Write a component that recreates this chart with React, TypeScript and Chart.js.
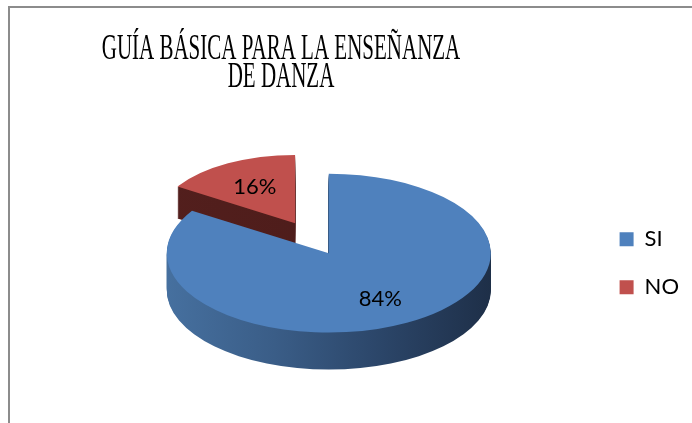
import React, { useEffect, useRef } from "react";
import { Chart, registerables } from "chart.js";

Chart.register(...registerables);

// ---- data ----
const categories = ["SI", "NO"];
const values = [84, 16];
const titleLines = ["GUÍA BÁSICA PARA LA ENSEÑANZA", "DE DANZA"];
const topColors = ["#4F81BD", "#C0504D"];
const sideColors = [
  ["#46709F", "#3A5D87", "#2B4568", "#1E2F48"],
  ["#531F1D", "#4A1B19"],
];
const explode = [0, 70];
const depthScale = [1, 0.86];

// ---- style ----
const W = 692;
const H = 423;
const RADIUS = 162;
const SQUASH = 0.49;
const DEPTH = 37;
const SHIFT_Y = -10;
const LABEL_R = [0.66, 0.6];
const TITLE_CX = 281;
const TITLE_SX = 0.6;

const pct = (v: number, total: number) => Math.round((v / total) * 100) + "%";

const pie3d = {
  id: "pie3d",
  afterLayout(chart: any) {
    const tb = chart.titleBlock;
    if (tb && !tb.__sq) {
      tb.__sq = true;
      const orig = tb.draw.bind(tb);
      tb.draw = (area: any) => {
        const ctx = chart.ctx;
        ctx.save();
        const mid = (tb.left + tb.right) / 2;
        ctx.translate(TITLE_CX, 0);
        ctx.scale(TITLE_SX, 1);
        ctx.translate(-mid, 0);
        orig(area);
        ctx.restore();
      };
    }
  },
  beforeDatasetDraw() {
    return false;
  },
  afterDatasetsDraw(chart: any) {
    const ctx = chart.ctx as CanvasRenderingContext2D;
    const arcs = chart.getDatasetMeta(0).data as any[];
    const total = values.reduce((a, b) => a + b, 0);
    const info = arcs.map((a, i) => {
      const p = a.getProps(["x", "y", "startAngle", "endAngle", "outerRadius"]);
      const mid = (p.startAngle + p.endAngle) / 2;
      const s = depthScale[i];
      const cxs = p.x + Math.cos(mid) * explode[i];
      const cys = p.y + SHIFT_Y + SQUASH * Math.sin(mid) * explode[i];
      return { a, i, p, mid, s, cxs, cys };
    });
    const order = [...info].sort((u, v) => Math.sin(u.mid) - Math.sin(v.mid));
    for (const it of order) {
      const { a, i, p, s, cxs, cys } = it;
      const setT = (d: number) =>
        ctx.setTransform(s, 0, 0, s * SQUASH, cxs - s * p.x, cys - s * SQUASH * p.y + d);
      ctx.save();
      const g = ctx.createLinearGradient(p.x - p.outerRadius, 0, p.x + p.outerRadius, 0);
      const cols = sideColors[i];
      cols.forEach((c, k) => g.addColorStop(cols.length === 1 ? 0 : k / (cols.length - 1), c));
      const depth = Math.round(DEPTH * s);
      for (let d = depth; d >= 1; d--) {
        setT(d);
        ctx.beginPath();
        ctx.moveTo(p.x, p.y);
        ctx.arc(p.x, p.y, p.outerRadius, p.startAngle, p.endAngle);
        ctx.closePath();
        ctx.fillStyle = g;
        ctx.fill();
      }
      setT(0);
      a.draw(ctx);
      ctx.restore();
    }
    ctx.save();
    ctx.setTransform(1, 0, 0, 1, 0, 0);
    ctx.font = "22px Lato";
    ctx.fillStyle = "#000";
    ctx.textAlign = "center";
    ctx.textBaseline = "middle";
    for (const it of info) {
      const { p, mid, s, cxs, cys, i } = it;
      const r = p.outerRadius * LABEL_R[i] * s;
      const lx = cxs + Math.cos(mid) * r;
      const ly = cys + SQUASH * Math.sin(mid) * r;
      ctx.fillText(pct(values[i], total), lx, ly);
    }
    ctx.restore();
  },
};

export default function App() {
  const ref = useRef<HTMLCanvasElement>(null);
  useEffect(() => {
    if (!ref.current) return;
    const chart = new Chart(ref.current, {
      type: "pie",
      data: {
        labels: categories,
        datasets: [
          {
            data: values,
            backgroundColor: topColors,
            borderWidth: 0,
            radius: RADIUS,
          } as any,
        ],
      },
      options: {
        responsive: false,
        maintainAspectRatio: false,
        animation: false,
        events: [],
        layout: { padding: { left: 64, right: 3, top: 0, bottom: 0 } },
        plugins: {
          title: {
            display: true,
            text: titleLines,
            color: "#000",
            font: {
              family: "'Liberation Serif', 'Times New Roman', serif",
              size: 35,
              weight: "normal",
              lineHeight: 0.82,
            },
            padding: { top: 35, bottom: 11 },
          },
          legend: {
            position: "right",
            fullSize: false,
            labels: {
              boxWidth: 14,
              boxHeight: 14,
              padding: 26,
              color: "#000",
              font: { family: "Lato", size: 22 },
            },
          },
          tooltip: { enabled: false },
        },
      } as any,
      plugins: [pie3d as any],
    });
    return () => chart.destroy();
  }, []);
  return (
    <div style={{ position: "absolute", left: 0, top: 0, width: W, height: H, overflow: "hidden", background: "#fff" }}>
      <div
        style={{
          position: "absolute",
          left: 8,
          top: 6,
          width: W - 8,
          height: H - 6,
          boxSizing: "border-box",
          borderLeft: "2px solid #8c8c8c",
          borderTop: "2px solid #8c8c8c",
        }}
      />
      <canvas ref={ref} width={W} height={H} style={{ position: "absolute", left: 0, top: 0, display: "block" }} />
    </div>
  );
}
